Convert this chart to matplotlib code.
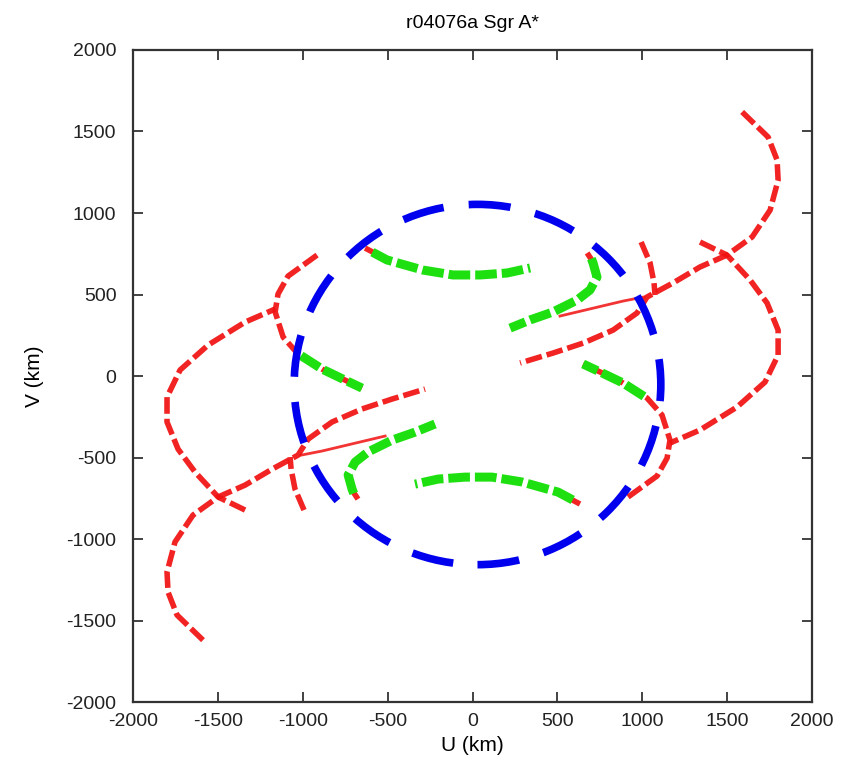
import matplotlib
matplotlib.use("Agg")
import matplotlib.pyplot as plt
from matplotlib.patches import Ellipse
import numpy as np

plt.rcParams['font.family'] = ['Liberation Sans Narrow', 'Liberation Sans', 'DejaVu Sans']
plt.rcParams['axes.unicode_minus'] = False

# uv tracks (km), only one half: the other half is the conjugate (-u, -v)
r1_u = [1588, 1741, 1794, 1800, 1753, 1647, 1499, 1340, 1181, 1028, 969, 828, 651, 474, 280]
r1_v = [1620, 1466, 1325, 1202, 1018, 853, 742, 669, 571, 485, 387, 282, 202, 141, 80]

r2_u = [993, 1046, 1069, 1075]
r2_v = [822, 693, 571, 497]

r3_u = [916, 1087, 1146, 1163, 1116, 1028, 887, 751, 651]
r3_v = [-742, -613, -503, -393, -239, -135, -43, 25, 74]

r4_u = [1340, 1499, 1635, 1735, 1800, 1800, 1723, 1558, 1340, 1163]
r4_v = [822, 742, 589, 448, 282, 129, -37, -190, -331, -411]

thin_u = [515, 887, 1010]
thin_v = [368, 460, 485]

# short red tips where the green tracks start
tip1_u = [-633, -560]
tip1_v = [785, 745]
tip2_u = [675, 700]
tip2_v = [755, 715]

# green tracks (short baselines)
g1_u = [-590, -504, -292, -115, 44, 203, 339]
g1_v = [760, 712, 650, 620, 620, 632, 663]

g2_u = [700, 710, 733, 692, 616, 474, 339, 221]
g2_v = [720, 693, 607, 528, 466, 393, 344, 294]

g3_u = [1010, 887, 751, 651]
g3_v = [-125, -43, 25, 74]

circle_center = (29, -52)
circle_width = 2160
circle_height = 2210

red_tracks = [(r1_u, r1_v), (r2_u, r2_v), (r3_u, r3_v), (r4_u, r4_v), (tip1_u, tip1_v), (tip2_u, tip2_v)]
green_tracks = [(g1_u, g1_v), (g2_u, g2_v), (g3_u, g3_v)]

fig = plt.figure(figsize=(8.53, 7.69), dpi=100)
ax = fig.add_axes([0.156, 0.087, 0.796, 0.848])

red = '#f01010'
green = '#1ee010'

for u, v in red_tracks:
    for s in (1, -1):
        ax.plot(s * np.array(u), s * np.array(v), color=red, lw=4, dashes=(3, 0.9),
                dash_capstyle='butt', alpha=0.92)

for s in (1, -1):
    ax.plot(s * np.array(thin_u), s * np.array(thin_v), color=red, lw=2, alpha=0.85)

for u, v in green_tracks:
    for s in (1, -1):
        ax.plot(s * np.array(u), s * np.array(v), color=green, lw=6.5, dashes=(2.4, 0.55),
                dash_capstyle='butt')

circ = Ellipse(circle_center, circle_width, circle_height, fill=False, edgecolor='#0000ee',
               lw=5.5, linestyle=(0, (5.5, 3.3)), zorder=5)
ax.add_patch(circ)

ax.set_xlim(-2000, 2000)
ax.set_ylim(-2000, 2000)
ax.set_xticks(np.arange(-2000, 2001, 500))
ax.set_yticks(np.arange(-2000, 2001, 500))
ax.tick_params(direction='in', top=True, right=True, length=7, width=1.2,
               labelsize=14, colors='#222222')
ax.tick_params(axis='y', pad=12)
ax.tick_params(axis='x', pad=8)
for sp in ax.spines.values():
    sp.set_color('#333333')
    sp.set_linewidth(1.6)

ax.set_title('r04076a Sgr A*', fontsize=14, pad=16)
ax.set_xlabel('U (km)', fontsize=15, labelpad=4)
ax.set_ylabel('V (km)', fontsize=15, labelpad=16)

fig.savefig('out.png', dpi=100)
